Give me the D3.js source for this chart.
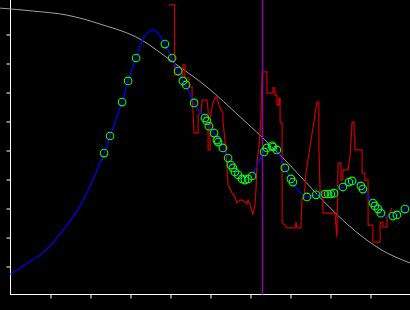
<!DOCTYPE html>
<html><head><meta charset="utf-8">
<script src="https://cdn.jsdelivr.net/npm/d3@7"></script>
<style>html,body{margin:0;padding:0;background:#000;}svg{display:block;}</style>
</head><body>
<script>
// ---- data (arbitrary units) ----
const xTicks = [1,2,3,4,5,6,7,8,9];
const yTicks = [1,2,3,4,5,6,7,8,9];

const priorX = [-0.26,0.56,1.41,2.24,3.24,4.06,4.91,5.74,6.56,7.24,7.99,8.41,9.24,9.99];
const priorY = [9.91,9.81,9.67,9.36,8.84,8.05,7.19,6.16,5.10,4.12,3.02,2.47,1.60,1.12];

const fitX = [0,0.24,0.49,0.74,0.99,1.24,1.49,1.74,1.99,2.24,2.34,2.49,2.64,2.79,2.94,3.14,3.24,3.36,3.49,3.59,3.69,3.79,3.86,4.04,4.19,4.31,4.39,4.59,4.74,4.86,4.96,5.09,5.19,5.31,5.44,5.56,5.69,5.79,5.86,5.94,6.04,6.19,6.34,6.44,6.54,6.66,6.76,6.86,7.01,7.14,7.29,7.41,7.64,7.84,7.99,8.09,8.19,8.31,8.46,8.54,8.64,8.76,8.84,8.94,9.06,9.19,9.26,9.41,9.56,9.66,9.76,9.86,9.99];
const fitY = [0.74,0.95,1.16,1.40,1.71,2.12,2.57,3.09,3.78,4.57,4.91,5.50,6.09,6.67,7.40,8.19,8.60,8.95,9.12,9.16,9.05,8.84,8.67,8.19,7.74,7.40,7.22,6.64,6.33,6.12,5.84,5.60,5.33,5.09,4.74,4.40,4.16,4.02,3.98,4.02,4.12,4.57,4.95,5.12,5.16,5.02,4.74,4.40,4.02,3.71,3.50,3.40,3.47,3.50,3.50,3.53,3.64,3.74,3.91,3.95,3.91,3.78,3.64,3.43,3.19,2.98,2.84,2.74,2.74,2.78,2.88,2.98,3.12];

const sampleX = [2.34,2.49,2.79,2.94,3.14,3.86,4.04,4.19,4.31,4.39,4.59,4.86,4.91,4.96,5.09,5.16,5.19,5.31,5.44,5.51,5.56,5.61,5.69,5.79,5.86,5.94,6.04,6.34,6.41,6.54,6.56,6.66,6.86,7.01,7.06,7.41,7.64,7.86,7.94,8.01,8.09,8.31,8.46,8.54,8.76,8.81,9.06,9.11,9.19,9.26,9.56,9.66,9.86];
const sampleY = [4.91,5.50,6.67,7.40,8.19,8.67,8.19,7.74,7.40,7.26,6.64,6.12,6.02,5.84,5.60,5.36,5.29,5.09,4.74,4.50,4.40,4.26,4.16,4.02,3.98,4.02,4.12,4.95,5.09,5.16,5.12,5.02,4.40,4.02,3.91,3.40,3.47,3.50,3.50,3.50,3.53,3.74,3.91,3.95,3.78,3.67,3.19,3.09,2.98,2.84,2.74,2.78,2.98];

const obsX = [3.96,4.10,4.10,4.31,4.31,4.36,4.36,4.46,4.46,4.54,4.54,4.56,4.59,4.69,4.69,4.76,4.79,4.91,4.94,4.94,4.99,4.99,5.06,5.11,5.16,5.21,5.26,5.31,5.31,5.36,5.41,5.44,5.54,5.61,5.66,5.74,5.81,5.91,5.94,5.99,6.06,6.11,6.14,6.16,6.21,6.26,6.29,6.41,6.41,6.56,6.56,6.61,6.61,6.66,6.66,6.71,6.71,6.74,6.74,6.79,6.79,6.91,7.11,7.14,7.16,7.26,7.29,7.34,7.39,7.66,7.71,7.71,7.74,7.81,7.81,8.11,8.16,8.19,8.26,8.26,8.31,8.31,8.44,8.49,8.54,8.59,8.59,8.61,8.61,8.79,8.79,8.86,8.86,8.94,8.94,9.06,9.06,9.24,9.24,9.31,9.31,9.41,9.41,9.49,9.54];
const obsY = [10.02,10.02,7.60,7.60,7.95,7.95,7.50,7.50,7.19,7.19,6.74,6.40,5.60,5.60,6.22,6.29,6.74,6.74,6.40,5.02,5.02,6.16,6.64,6.81,6.84,6.57,6.40,6.33,6.05,5.36,4.50,3.81,3.53,3.40,3.19,3.29,3.29,3.16,3.29,3.12,2.78,3.12,3.71,4.60,5.09,6.05,7.71,7.71,6.98,6.98,7.16,7.16,6.91,6.91,6.57,6.57,6.81,6.81,5.95,5.95,2.53,2.33,2.33,2.53,2.33,2.33,3.36,3.36,4.26,6.67,6.67,5.12,3.57,3.57,2.84,2.84,2.02,4.57,4.57,3.98,3.98,4.33,4.33,4.84,5.98,5.98,5.50,5.50,5.02,5.02,4.22,4.22,3.98,3.98,2.43,2.43,1.84,1.84,2.53,2.53,2.36,2.36,2.71,2.88,3.02];

const markerX = 6.30;

// ---- drawing ----
const W = 410, H = 310;
const svg = d3.select("body").append("svg").attr("width", W).attr("height", H)
  .style("background", "#000");

const x = d3.scaleLinear().domain([0, 10]).range([10.5, 410.5]);
const y = d3.scaleLinear().domain([0, 10]).range([295.5, 5.5]);
const yAxisPos = 10.5, xAxisPos = 294.5;

// axes
const gx = svg.append("g").attr("transform", `translate(0,${xAxisPos})`)
  .call(d3.axisBottom(x).tickValues(xTicks).tickSize(4).tickSizeOuter(0).tickFormat(""));
const gy = svg.append("g").attr("transform", `translate(${yAxisPos},0)`)
  .call(d3.axisLeft(y).tickValues(yTicks).tickSize(4).tickSizeOuter(0).tickFormat(""));
gx.select(".domain").remove();
gy.select(".domain").remove();
gx.selectAll("line").attr("stroke", "#fff");
gy.selectAll("line").attr("stroke", "#fff");
svg.append("line").attr("x1", yAxisPos).attr("x2", W).attr("y1", xAxisPos).attr("y2", xAxisPos)
  .attr("stroke", "#fff").attr("stroke-width", 1);
svg.append("line").attr("x1", yAxisPos).attr("x2", yAxisPos).attr("y1", 0).attr("y2", xAxisPos + 0.5)
  .attr("stroke", "#fff").attr("stroke-width", 1);

const zip = (a, b) => a.map((v, i) => [v, b[i]]);

// prior (gray)
svg.append("path").datum(zip(priorX, priorY))
  .attr("fill", "none").attr("stroke", "#a0a0a0").attr("stroke-width", 1)
  .attr("d", d3.line().x(d => x(d[0])).y(d => y(d[1])).curve(d3.curveMonotoneX));

// observed (red)
svg.append("path").datum(zip(obsX, obsY))
  .attr("fill", "none").attr("stroke", "#cc0000").attr("stroke-width", 1.2)
  .attr("d", d3.line().x(d => x(d[0])).y(d => y(d[1])));

// marker (purple)
svg.append("line").attr("x1", x(markerX)).attr("x2", x(markerX))
  .attr("y1", 0).attr("y2", xAxisPos)
  .attr("stroke", "#8c00a8").attr("stroke-width", 1.5);

// fit (blue)
svg.append("path").datum(zip(fitX, fitY))
  .attr("fill", "none").attr("stroke", "#0000ff").attr("stroke-width", 1.2)
  .attr("d", d3.line().x(d => x(d[0])).y(d => y(d[1])).curve(d3.curveMonotoneX));

// samples (green circles)
svg.append("g").selectAll("circle").data(zip(sampleX, sampleY)).join("circle")
  .attr("cx", d => x(d[0])).attr("cy", d => y(d[1])).attr("r", 3.8)
  .attr("fill", "none").attr("stroke", "#00ff00").attr("stroke-width", 1.1);
</script>
</body></html>
